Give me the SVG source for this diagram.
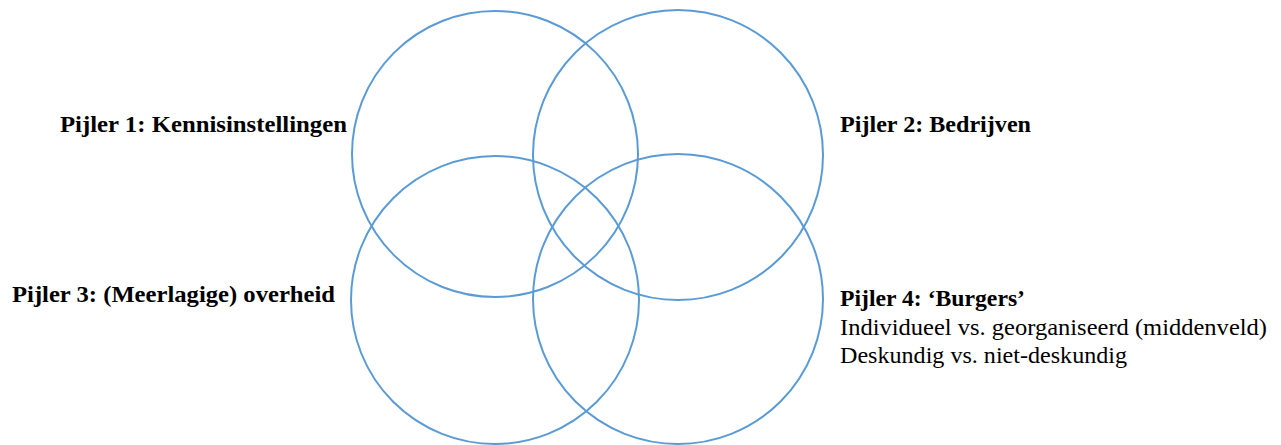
<svg xmlns="http://www.w3.org/2000/svg" width="1281" height="445" viewBox="0 0 1281 445">
<style>
.c{fill:none;stroke:#5b9bd5;stroke-width:2}
.b{font-family:"Liberation Serif","DejaVu Serif",serif;font-weight:bold;font-size:22.5px;fill:#000}
.r{font-family:"Liberation Serif","DejaVu Serif",serif;font-size:22.5px;fill:#000}
</style>
<rect width="1281" height="445" fill="#fff"/>
<g id="circle1"><circle class="c" cx="495" cy="154" r="143"/></g>
<g id="circle2"><circle class="c" cx="678" cy="155" r="145"/></g>
<g id="circle3"><circle class="c" cx="495" cy="300" r="144"/></g>
<g id="circle4"><circle class="c" cx="678" cy="299" r="145"/></g>
<g id="label1"><text class="b" x="60" y="132" textLength="287" lengthAdjust="spacingAndGlyphs">Pijler 1: Kennisinstellingen</text></g>
<g id="label2"><text class="b" x="840" y="132" textLength="191" lengthAdjust="spacingAndGlyphs">Pijler 2: Bedrijven</text></g>
<g id="label3"><text class="b" x="12" y="302" textLength="323" lengthAdjust="spacingAndGlyphs">Pijler 3: (Meerlagige) overheid</text></g>
<g id="label4">
<text class="b" x="840" y="306" textLength="185" lengthAdjust="spacingAndGlyphs">Pijler 4: ‘Burgers’</text>
<text class="r" x="840" y="335" textLength="427" lengthAdjust="spacingAndGlyphs">Individueel vs. georganiseerd (middenveld)</text>
<text class="r" x="840" y="363" textLength="287" lengthAdjust="spacingAndGlyphs">Deskundig vs. niet-deskundig</text>
</g>
</svg>
